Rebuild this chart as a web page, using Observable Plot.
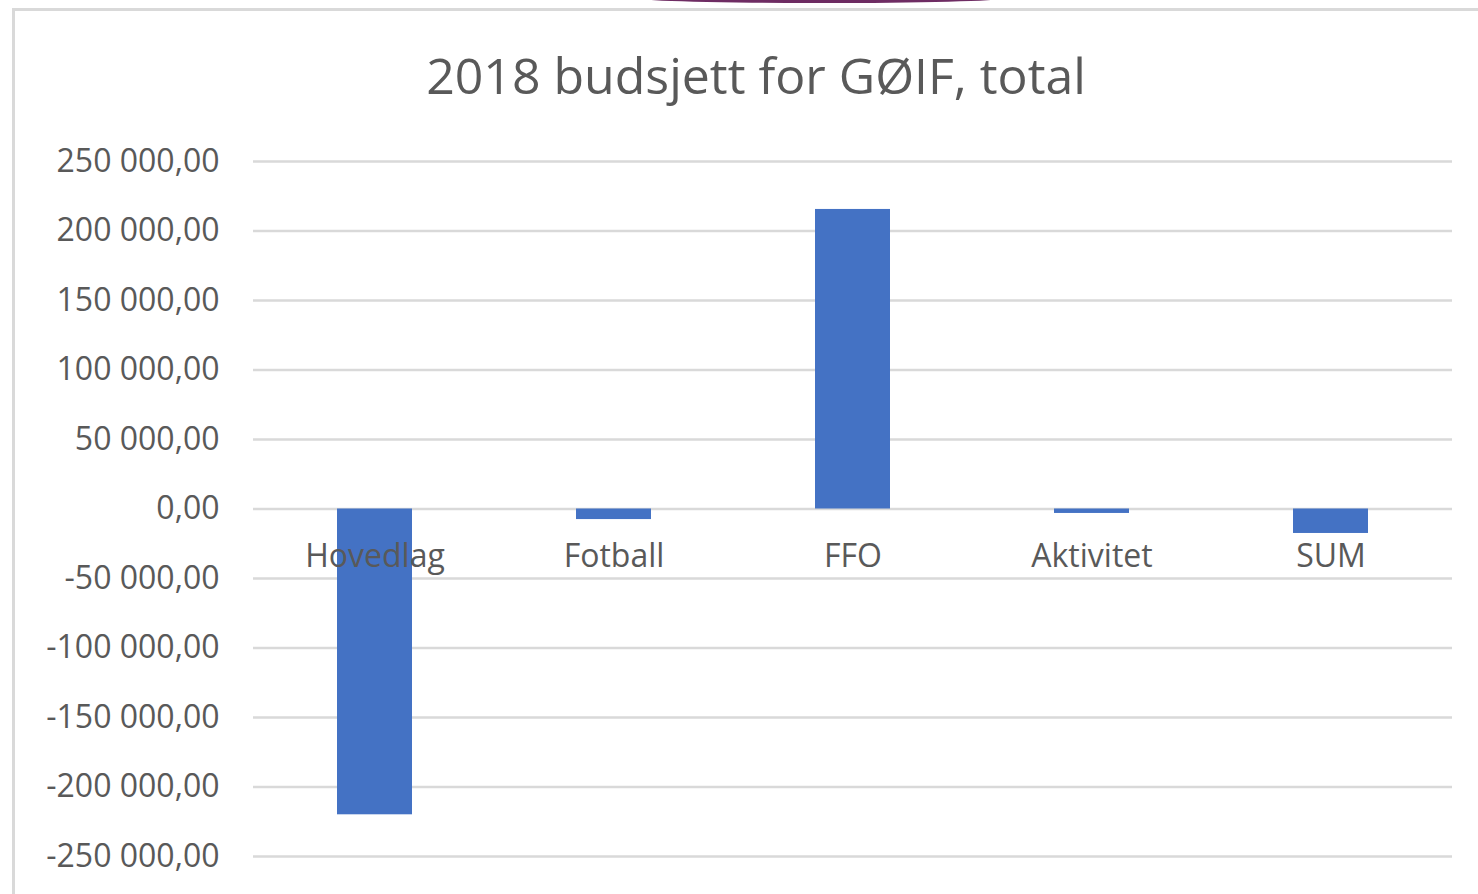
<!DOCTYPE html>
<html>
<head>
<meta charset="utf-8">
<script src="https://cdn.jsdelivr.net/npm/d3@7"></script>
<script src="https://cdn.jsdelivr.net/npm/@observablehq/plot@0.6"></script>
<style>
  html, body { margin: 0; padding: 0; background: #ffffff; }
  #wrap { position: relative; width: 1478px; height: 894px; overflow: hidden; background: #fff; }
  #title { position: relative; height: 130px; box-sizing: border-box; padding-top: 41px;
           text-align: center; font-family: "Open Sans", sans-serif; font-size: 50px; line-height: 68px;
           color: #595959; padding-left: 34px; }
  #title span { display: inline-block; }
  .edgeL { position: absolute; left: 12px; top: 8px; width: 3px; height: 900px; background: #d9d9d9; }
  .edgeT { position: absolute; left: 12px; top: 8px; width: 1480px; height: 3px; background: #d9d9d9; }
  .arc { position: absolute; left: 641px; top: -6px; width: 360px; height: 9px; border-radius: 50%;
         background: #6e2c63; }
  #chart svg { display: block; }
</style>
</head>
<body>
<div id="wrap">
  <div class="arc"></div>
  <div class="edgeT"></div>
  <div class="edgeL"></div>
  <div id="title"><span>2018 budsjett for GØIF, total</span></div>
  <div id="chart"></div>
</div>
<script>
const categories = ["Hovedlag", "Fotball", "FFO", "Aktivitet", "SUM"];
const values = [-220000, -7600, 215500, -3200, -17600];
const yTicks = [-250000, -200000, -150000, -100000, -50000, 0, 50000, 100000, 150000, 200000, 250000];

const data = categories.map((c, i) => ({cat: c, value: values[i]}));

const nb = d3.formatLocale({decimal: ",", thousands: "\u00a0", grouping: [3], currency: ["", ""], minus: "-"});
const fmt = nb.format(",.2f");

const chart = Plot.plot({
  width: 1478,
  height: 764,
  marginLeft: 253,
  marginRight: 26,
  marginTop: 31,
  marginBottom: 38,
  style: {fontFamily: "'Open Sans', sans-serif", fontSize: "32px", color: "#595959", background: "#fff"},
  x: {domain: categories, paddingInner: 0.6875, paddingOuter: 0.34375, axis: null},
  y: {domain: [-250000, 250000], ticks: yTicks, tickFormat: fmt, tickSize: 0, tickPadding: 34, label: null},
  marks: [
    Plot.ruleY(yTicks, {stroke: "#d9d9d9", strokeWidth: 2.5}),
    Plot.barY(data, {x: "cat", y: "value", fill: "#4472C4"}),
    Plot.text(data, {x: "cat", y: () => 0, text: "cat", dy: 48, fill: "#595959", fontSize: 32})
  ]
});
document.getElementById("chart").appendChild(chart);
</script>
</body>
</html>
